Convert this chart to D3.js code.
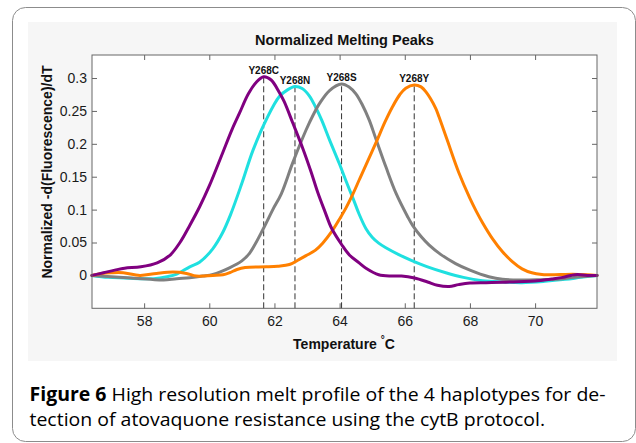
<!DOCTYPE html>
<html><head><meta charset="utf-8">
<script src="https://cdn.jsdelivr.net/npm/d3@7"></script>
<style>body{margin:0;background:#fff}svg{display:block}</style>
</head><body>
<script>
// ---------- data ----------
const titleText = "Normalized Melting Peaks";
const xLabelText = "Temperature ";
const yLabelText = "Normalized -d(Fluorescence)/dT";
const xTicks = [58, 60, 62, 64, 66, 68, 70];
const yTicks = [0, 0.05, 0.1, 0.15, 0.2, 0.25, 0.3];
const yTickLabels = ["0", "0.05", "0.1", "0.15", "0.2", "0.25", "0.3"];

const seriesNames = ["Y268N", "Y268S", "Y268Y", "Y268C"];

const tempsC = [56.40,56.75,57.10,57.40,57.90,58.40,58.80,59.10,59.40,59.70,60.00,60.40,60.70,60.93,61.20,61.45,61.67,61.90,62.15,62.30,62.56,62.87,63.12,63.33,63.55,63.75,64.06,64.30,64.60,64.81,65.20,65.60,65.90,66.30,66.70,67.00,67.36,67.65,68.00,68.50,69.00,69.50,70.00,70.50,70.85,71.10,71.30,71.60,71.90];
const valuesC = [0.000,0.004,0.008,0.011,0.013,0.019,0.031,0.050,0.076,0.104,0.136,0.185,0.222,0.247,0.276,0.294,0.302,0.297,0.278,0.264,0.232,0.193,0.158,0.126,0.097,0.072,0.047,0.031,0.019,0.011,0.001,-0.001,-0.001,-0.004,-0.010,-0.015,-0.017,-0.014,-0.0115,-0.011,-0.0105,-0.0095,-0.0085,-0.0055,-0.003,0.000,0.0015,0.000,0.000];

const tempsN = [56.40,56.90,57.40,57.90,58.30,58.70,59.00,59.40,59.70,60.10,60.40,60.65,61.00,61.34,61.75,62.15,62.40,62.63,62.85,63.07,63.26,63.45,63.69,63.99,64.20,64.42,64.60,64.81,65.00,65.20,65.42,65.80,66.20,66.70,67.26,67.80,68.38,69.00,69.60,70.30,70.93,71.40,71.90];
const valuesN = [0.000,-0.003,-0.004,-0.005,-0.005,-0.002,0.002,0.013,0.020,0.040,0.064,0.092,0.140,0.190,0.237,0.272,0.282,0.287,0.284,0.273,0.256,0.236,0.206,0.170,0.143,0.116,0.093,0.071,0.058,0.049,0.042,0.032,0.023,0.013,0.004,-0.003,-0.008,-0.010,-0.011,-0.009,-0.006,-0.003,0.000];

const tempsS = [56.40,57.00,57.60,58.20,58.60,59.00,59.40,59.80,60.11,60.62,61.00,61.24,61.67,61.95,62.21,62.56,62.97,63.20,63.38,63.69,64.06,64.30,64.50,64.70,64.91,65.11,65.42,65.73,66.08,66.24,66.50,66.75,67.10,67.56,68.00,68.58,69.00,69.60,70.20,70.62,71.20,71.90];
const valuesS = [0.000,-0.002,-0.004,-0.006,-0.007,-0.005,-0.0035,-0.001,0.0015,0.0115,0.022,0.034,0.072,0.100,0.124,0.171,0.221,0.245,0.261,0.281,0.291,0.286,0.276,0.259,0.236,0.208,0.165,0.125,0.090,0.076,0.059,0.046,0.032,0.018,0.008,-0.002,-0.006,-0.007,-0.0065,-0.006,-0.003,0.000];

const tempsY = [56.40,56.70,57.00,57.36,57.87,58.38,58.89,59.30,59.60,60.11,60.42,60.62,60.85,61.10,61.75,62.10,62.46,62.75,62.97,63.25,63.48,63.75,63.99,64.20,64.42,64.60,64.81,65.11,65.40,65.62,65.85,66.03,66.29,66.50,66.65,66.95,67.05,67.30,67.66,68.00,68.20,68.40,68.69,69.00,69.30,69.60,69.90,70.21,70.60,70.93,71.34,71.60,71.90];
const valuesY = [0.000,0.003,0.004,0.004,0.000,0.003,0.005,0.003,-0.001,0.000,0.001,0.004,0.009,0.012,0.013,0.014,0.0165,0.024,0.030,0.038,0.049,0.066,0.085,0.103,0.125,0.145,0.168,0.201,0.234,0.256,0.275,0.2845,0.2895,0.2865,0.279,0.254,0.241,0.206,0.156,0.117,0.097,0.079,0.056,0.036,0.021,0.010,0.004,0.0015,0.001,0.0015,0.0015,0.001,0.000];

const peakLabels = ["Y268C", "Y268N", "Y268S", "Y268Y"];
const peakTemps = [61.67, 62.63, 64.06, 66.29];
const peakValues = [0.302, 0.287, 0.291, 0.2895];

const captionBold = "Figure 6";
const captionLine1 = " High resolution melt profile of the 4 haplotypes for de-";
const captionLine2 = "tection of atovaquone resistance using the cytB protocol.";

// ---------- layout / style ----------
const W = 636, H = 443;
const seriesTemps = {Y268C: tempsC, Y268N: tempsN, Y268S: tempsS, Y268Y: tempsY};
const seriesValues = {Y268C: valuesC, Y268N: valuesN, Y268S: valuesS, Y268Y: valuesY};
const colors = {Y268C: "#800080", Y268N: "#1fe0e0", Y268S: "#808080", Y268Y: "#ff8000"};

const svg = d3.select("body").append("svg").attr("width", W).attr("height", H);

svg.append("rect").attr("x", 12.5).attr("y", 7.5).attr("width", 623).attr("height", 434)
  .attr("rx", 13).attr("fill", "#fff").attr("stroke", "#8c8c8c").attr("stroke-width", 1);
svg.append("rect").attr("x", 28).attr("y", 22).attr("width", 589).attr("height", 339).attr("fill", "#f6f6f6");

const x = d3.scaleLinear().domain([56.4, 71.9]).range([92, 597]);
const y = d3.scaleLinear().domain([-0.05, 0.335]).range([308.3, 55]);

svg.append("rect").attr("x", 92).attr("y", 55).attr("width", 505).attr("height", 253.3).attr("fill", "#fff");

const font = "'Liberation Sans', Arial, sans-serif";
function styleAxis(g) {
  g.select(".domain").remove();
  g.selectAll(".tick line").attr("stroke", "#666");
  g.selectAll(".tick text").attr("fill", "#1a1a1a").style("font-family", font).style("font-size", "14px");
}
svg.append("g").attr("transform", `translate(0,${y.range()[0]})`)
  .call(d3.axisBottom(x).tickValues(xTicks).tickSize(-5).tickPadding(8).tickFormat(d3.format("d"))).call(styleAxis);
svg.append("g").attr("transform", `translate(0,${y.range()[1]})`)
  .call(d3.axisTop(x).tickValues(xTicks).tickSize(-5).tickFormat("")).call(styleAxis);
svg.append("g").attr("transform", `translate(${x.range()[0]},0)`)
  .call(d3.axisLeft(y).tickValues(yTicks).tickSize(-5).tickPadding(5).tickFormat((d, i) => yTickLabels[i])).call(styleAxis);
svg.append("g").attr("transform", `translate(${x.range()[1]},0)`)
  .call(d3.axisRight(y).tickValues(yTicks).tickSize(-5).tickFormat("")).call(styleAxis);

// dashed peak lines
peakLabels.forEach((lab, i) => {
  svg.append("line").attr("x1", x(peakTemps[i])).attr("x2", x(peakTemps[i]))
    .attr("y1", y.range()[0]).attr("y2", y(peakValues[i]))
    .attr("stroke", "#333").attr("stroke-width", 1).attr("stroke-dasharray", "6,3");
});

// curves
const line = d3.line().x(d => x(d[0])).y(d => y(d[1])).curve(d3.curveCatmullRom.alpha(0.5));
seriesNames.forEach(name => {
  const pts = seriesTemps[name].map((t, i) => [t, seriesValues[name][i]]);
  svg.append("path").datum(pts).attr("d", line).attr("fill", "none")
    .attr("stroke", colors[name]).attr("stroke-width", 3)
    .attr("stroke-linejoin", "round").attr("stroke-linecap", "round");
});

// peak labels
peakLabels.forEach((lab, i) => {
  svg.append("text").attr("x", x(peakTemps[i])).attr("y", y(peakValues[i]) - 3)
    .attr("text-anchor", "middle").style("font-family", font).style("font-size", "10px")
    .style("font-weight", "bold").attr("fill", "#111").text(lab);
});

// frame
svg.append("rect").attr("x", 92).attr("y", 55).attr("width", 505).attr("height", 253.3)
  .attr("fill", "none").attr("stroke", "#666").attr("stroke-width", 1);

// title & labels
svg.append("text").attr("x", 344.5).attr("y", 45).attr("text-anchor", "middle")
  .style("font-family", font).style("font-size", "14.5px").style("font-weight", "bold").attr("fill", "#111").text(titleText);
const xl = svg.append("text").attr("x", 344).attr("y", 348.5).attr("text-anchor", "middle")
  .style("font-family", font).style("font-size", "14px").style("font-weight", "bold").attr("fill", "#111");
xl.append("tspan").text(xLabelText);
xl.append("tspan").attr("dy", -6).style("font-size", "10px").text("\u00B0");
xl.append("tspan").attr("dy", 6).text("C");
svg.append("text").attr("transform", "translate(51.5,172) rotate(-90)").attr("text-anchor", "middle")
  .style("font-family", font).style("font-size", "14px").style("font-weight", "bold").attr("fill", "#111").text(yLabelText);

// caption
const capFont = "'Open Sans', 'Noto Sans', sans-serif";
const c1 = svg.append("text").attr("x", 29.5).attr("y", 400.5)
  .style("font-family", capFont).style("font-size", "19px").attr("fill", "#000");
c1.append("tspan").style("font-weight", "bold").text(captionBold);
c1.append("tspan").style("font-weight", 500).text(captionLine1);
const c2 = svg.append("text").attr("x", 29.5).attr("y", 426)
  .style("font-family", capFont).style("font-size", "19px").style("font-weight", 500).attr("fill", "#000").text(captionLine2);
const w1 = c1.node().getComputedTextLength();
const w2 = c2.node().getComputedTextLength();
const k = 576 / w1;
c1.attr("textLength", w1 * k).attr("lengthAdjust", "spacingAndGlyphs");
c2.attr("textLength", w2 * k).attr("lengthAdjust", "spacingAndGlyphs");
</script>
</body></html>
